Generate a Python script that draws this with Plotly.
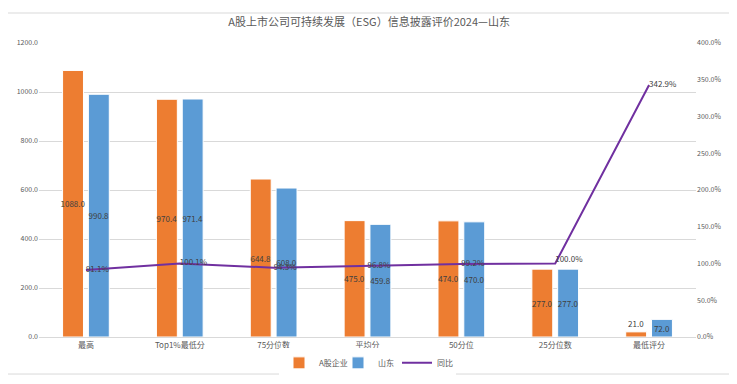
import plotly.graph_objects as go

categories = ["最高", "Top1%最低分", "75分位数", "平均分", "50分位", "25分位数", "最低评分"]
a_share = [1088.0, 970.4, 644.8, 475.0, 474.0, 277.0, 21.0]
shandong = [990.8, 971.4, 608.0, 459.8, 470.0, 277.0, 72.0]
yoy = [91.1, 100.1, 94.3, 96.8, 99.2, 100.0, 342.9]

FONT = "Noto Sans CJK SC, Liberation Sans, sans-serif"
LBL = "#404040"
TICK = "#595959"

a_pos = ["inside" if v > 50 else "outside" for v in a_share]
s_pos = ["inside" if v > 50 else "outside" for v in shandong]
line_pos = ["middle right", "middle right", "middle right", "middle right",
            "middle right", "top right", "middle right"]

fig = go.Figure()
fig.add_trace(go.Bar(
    x=categories, y=a_share, name="A股企业",
    marker=dict(color="#ED7D31", line=dict(color="white", width=1)),
    text=[f"{v:.1f}" for v in a_share], textposition=a_pos,
    insidetextanchor="middle", textangle=0, constraintext="none",
    textfont=dict(size=8, color=LBL, family=FONT), cliponaxis=False,
))
fig.add_trace(go.Bar(
    x=categories, y=shandong, name="山东",
    marker=dict(color="#5B9BD5", line=dict(color="white", width=1)),
    text=[f"{v:.1f}" for v in shandong], textposition=s_pos,
    insidetextanchor="middle", textangle=0, constraintext="none",
    textfont=dict(size=8, color=LBL, family=FONT), cliponaxis=False,
))
fig.add_trace(go.Scatter(
    x=categories, y=yoy, name="同比", yaxis="y2", mode="lines+text",
    line=dict(color="#7030A0", width=2),
    text=[f"{v:.1f}%" for v in yoy], textposition=line_pos,
    textfont=dict(size=8, color=LBL, family=FONT), cliponaxis=False,
))

fig.update_layout(
    width=737, height=384,
    margin=dict(l=31, r=49, t=35, b=55, autoexpand=False),
    paper_bgcolor="white", plot_bgcolor="white",
    font=dict(family=FONT, color=TICK, size=8),
    uniformtext=dict(minsize=8, mode="show"),
    title=dict(text="A股上市公司可持续发展（ESG）信息披露评价2024—山东",
               x=0.49, xanchor="center", y=0.963, yanchor="middle",
               font=dict(size=11, color=TICK, family=FONT)),
    barmode="group", bargap=0.45, bargroupgap=0.19,
    xaxis=dict(showgrid=False, showline=True, linecolor="#D9D9D9", linewidth=1,
               ticks="", tickfont=dict(size=8, color=TICK), automargin=False),
    yaxis=dict(range=[0, 1200], dtick=200, tickformat=".1f",
               showgrid=True, gridcolor="#D9D9D9", gridwidth=1,
               zeroline=False, showline=False, ticks="", automargin=False,
               tickfont=dict(size=7, color=TICK)),
    yaxis2=dict(range=[0, 400], dtick=50, tickformat=".1f", ticksuffix="%",
                overlaying="y", side="right", showgrid=False, zeroline=False,
                showline=False, ticks="", automargin=False,
                tickfont=dict(size=7, color=TICK)),
    legend=dict(orientation="h", x=0.5, xanchor="center", y=-0.088, yanchor="middle",
                font=dict(size=8, color=TICK), itemwidth=30, traceorder="normal",
                entrywidth=14, entrywidthmode="pixels"),
    showlegend=True,
)

fig.add_shape(type="rect", xref="paper", yref="paper",
              x0=-0.052, x1=1.053, y0=-0.126, y1=1.102,
              line=dict(color="#D9D9D9", width=1), fillcolor="rgba(0,0,0,0)",
              layer="below")

fig.write_html("out.html")
